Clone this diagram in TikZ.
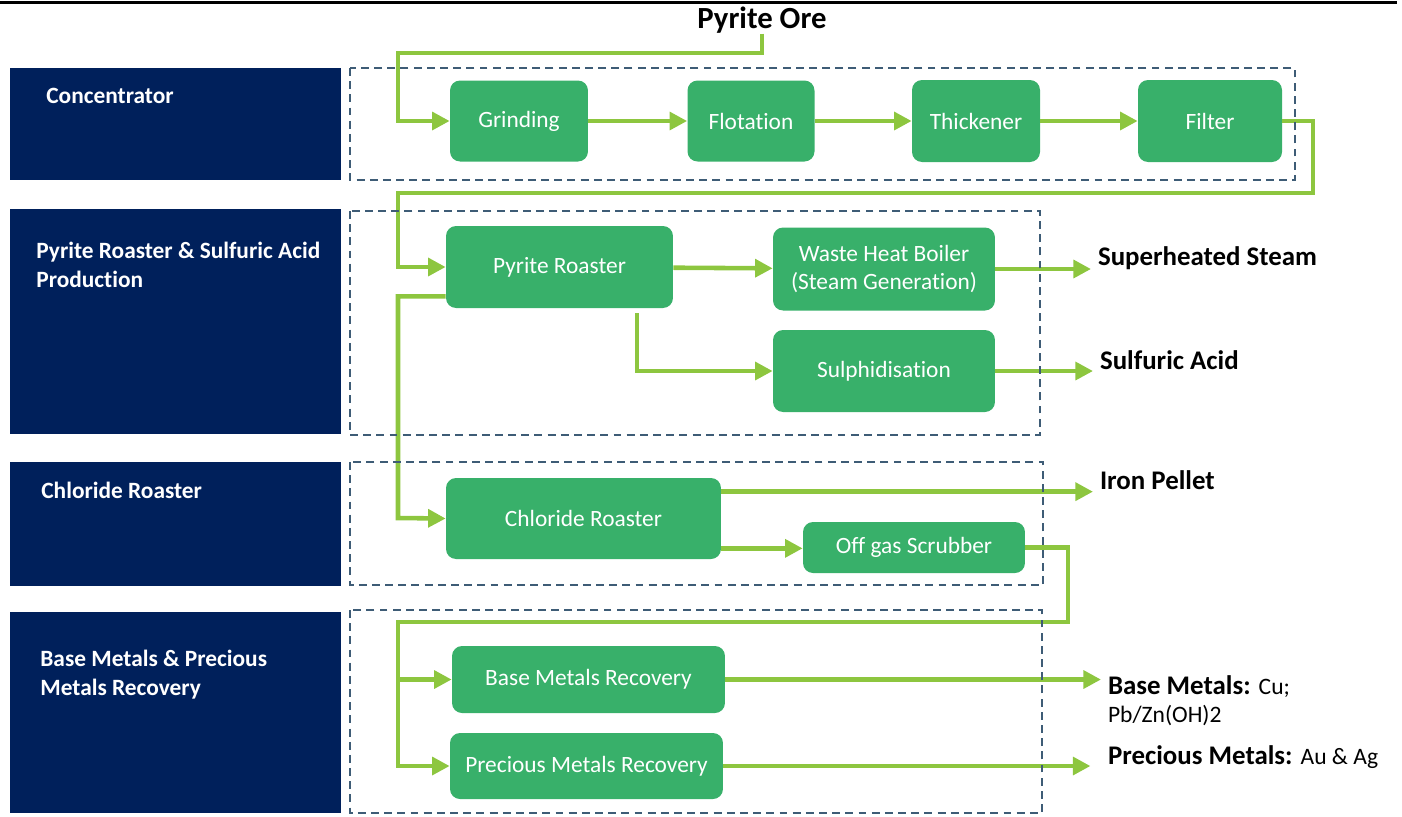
\documentclass[tikz,border=0pt]{standalone}
\usepackage{fontspec}
\setmainfont{Carlito}[Ligatures=NoCommon]
\usepackage{xcolor}
\usepackage{tikz}
\usetikzlibrary{positioning,calc,arrows.meta}

\definecolor{stagenavy}{RGB}{0,32,91}
\definecolor{procgreen}{RGB}{56,176,106}
\definecolor{flowlime}{RGB}{141,198,63}
\definecolor{groupslate}{RGB}{62,92,118}

\tikzset{
    procbox/.style={fill=procgreen, text=white, rounded corners=0.2cm, inner sep=0pt, align=center, font=\fontsize{13.3}{16.4}\selectfont},
    stagetext/.style={text=white, inner sep=0pt, anchor=north west, align=left, font=\fontsize{13.3}{16.4}\selectfont\bfseries},
    groupbox/.style={draw=groupslate, line width=1.1pt, dash pattern=on 4.5pt off 3pt},
    flow/.style={draw=flowlime, line width=2.6pt, -{Triangle[length=10pt,width=10pt]}},
    outtext/.style={anchor=west, inner sep=0pt, outer sep=4pt, align=left, font=\fontsize{15.3}{15.9}\selectfont\bfseries},
}
\newcommand{\outnote}[1]{{\mdseries\fontsize{13.4}{15.9}\selectfont #1}}

\begin{document}
\begin{tikzpicture}[x=0.02cm, y=-0.02cm]
    \useasboundingbox (0,0) rectangle (1402,816);
    \draw [line width=1.7pt] (0,2) -- (1397,2);

    % Stage panels (left)
    \foreach \top/\bot in {68/180, 209/434, 462/586, 612/813} {
        \fill [stagenavy] (10,\top) rectangle (341,\bot);
    }
    \foreach \n/\x/\y/\txt in {conc/46/88/Concentrator, roast/36/242/{Pyrite Roaster \& Sulfuric Acid\\Production}, chlor/41/482/Chloride Roaster, recov/40/650/{Base Metals \& Precious\\Metals Recovery}} {
        \node [stagetext] (lab\n) at (\x,\y) {\txt};
    }

    % Process boxes
    \node [font=\fontsize{17.5}{20}\selectfont\bfseries, inner sep=0pt] (ore) at (762,20) {Pyrite Ore};
    \node [procbox, minimum width=2.76cm, minimum height=1.62cm] (grind) at (519,121) {Grinding};
    \node [procbox, minimum width=2.54cm, minimum height=1.62cm] (flot) at (751,121) {Flotation};
    \node [procbox, minimum width=2.56cm, minimum height=1.64cm] (thick) at (976,121) {Thickener};
    \node [procbox, minimum width=2.88cm, minimum height=1.64cm] (filter) at (1210,121) {Filter};
    \node [procbox, minimum width=4.54cm, minimum height=1.64cm] (proaster) at (559.5,267) {Pyrite Roaster};
    \node [procbox, minimum width=4.44cm, minimum height=1.66cm] (boiler) at (884,269) {Waste Heat Boiler\\(Steam Generation)};
    \node [procbox, minimum width=4.44cm, minimum height=1.64cm] (sulph) at (884,371) {Sulphidisation};
    \node [procbox, minimum width=5.50cm, minimum height=1.62cm] (chloride) at (583.5,518.5) {Chloride Roaster};
    \node [procbox, minimum width=4.44cm, minimum height=1.02cm] (scrub) at (914,547.5) {Off gas Scrubber};
    \node [procbox, minimum width=5.46cm, minimum height=1.34cm] (base) at (588.5,679.5) {Base Metals Recovery};
    \node [procbox, minimum width=5.46cm, minimum height=1.32cm] (precious) at (586.5,766) {Precious Metals Recovery};

    % Products
    \node [outtext] (steam) at (1091,258) {Superheated Steam};
    \node [outtext] (acid) at (1093,360) {Sulfuric Acid};
    \node [outtext] (iron) at (1093,480) {Iron Pellet};
    \node [outtext, anchor=north west] (basemet) at (1101,669) {Base Metals: \outnote{Cu;}\\\outnote{Pb/Zn(OH)2}};
    \node [outtext] (precmet) at (1101,757) {Precious Metals: \outnote{Au \& Ag}};

    % Bends of the flow lines
    \coordinate (busA) at (398,53);
    \coordinate (turnB) at (1313,193);
    \coordinate (busB) at (398,193);
    \coordinate (busC) at (398,518);
    \coordinate (turnD) at (1068,622);
    \coordinate (busD) at (398,622);

    % Flow lines
    \draw [flow] (ore.south) |- (busA) |- (grind.west);
    \foreach \a/\b in {grind/flot, flot/thick, thick/filter} {
        \draw [flow] (\a) -- (\b);
    }
    \draw [flow] (filter.east) -| (turnB) -- (busB) |- (proaster.west);
    \draw [flow] ([yshift=0.24cm]proaster.south west) -| (busC) -- (chloride.west);
    \draw [flow] (proaster) -- (boiler);
    \draw [flow] ([xshift=1.55cm,yshift=-0.1cm]proaster.south) |- (sulph.west);
    \draw [flow] (boiler.east) -- (boiler.east -| steam.west);
    \draw [flow] (sulph.east) -- (sulph.east -| acid.west);
    \coordinate (crA) at ([yshift=-0.28cm]chloride.north east);
    \coordinate (crB) at ([yshift=0.22cm]chloride.south east);
    \draw [flow] (crA) -- (crA -| iron.west);
    \draw [flow] (crB) -- (crB -| scrub.west);
    \draw [flow] (scrub.east) -| (turnD) -- (busD) |- (precious.west);
    \draw [flow] (busD |- base.west) -- (base.west);
    \draw [flow] (base.east) -- (base.east -| basemet.west);
    \draw [flow, shorten >=6pt] (precious.east) -- (precious.east -| precmet.west);

    % Stage groups (dashed)
    \draw [groupbox] (350,68) rectangle (1295,180);
    \draw [groupbox] (350,211) rectangle (1040,435);
    \draw [groupbox] (350,462) rectangle (1043,585);
    \draw [groupbox] (350,610) rectangle (1042,813);
\end{tikzpicture}
\end{document}
